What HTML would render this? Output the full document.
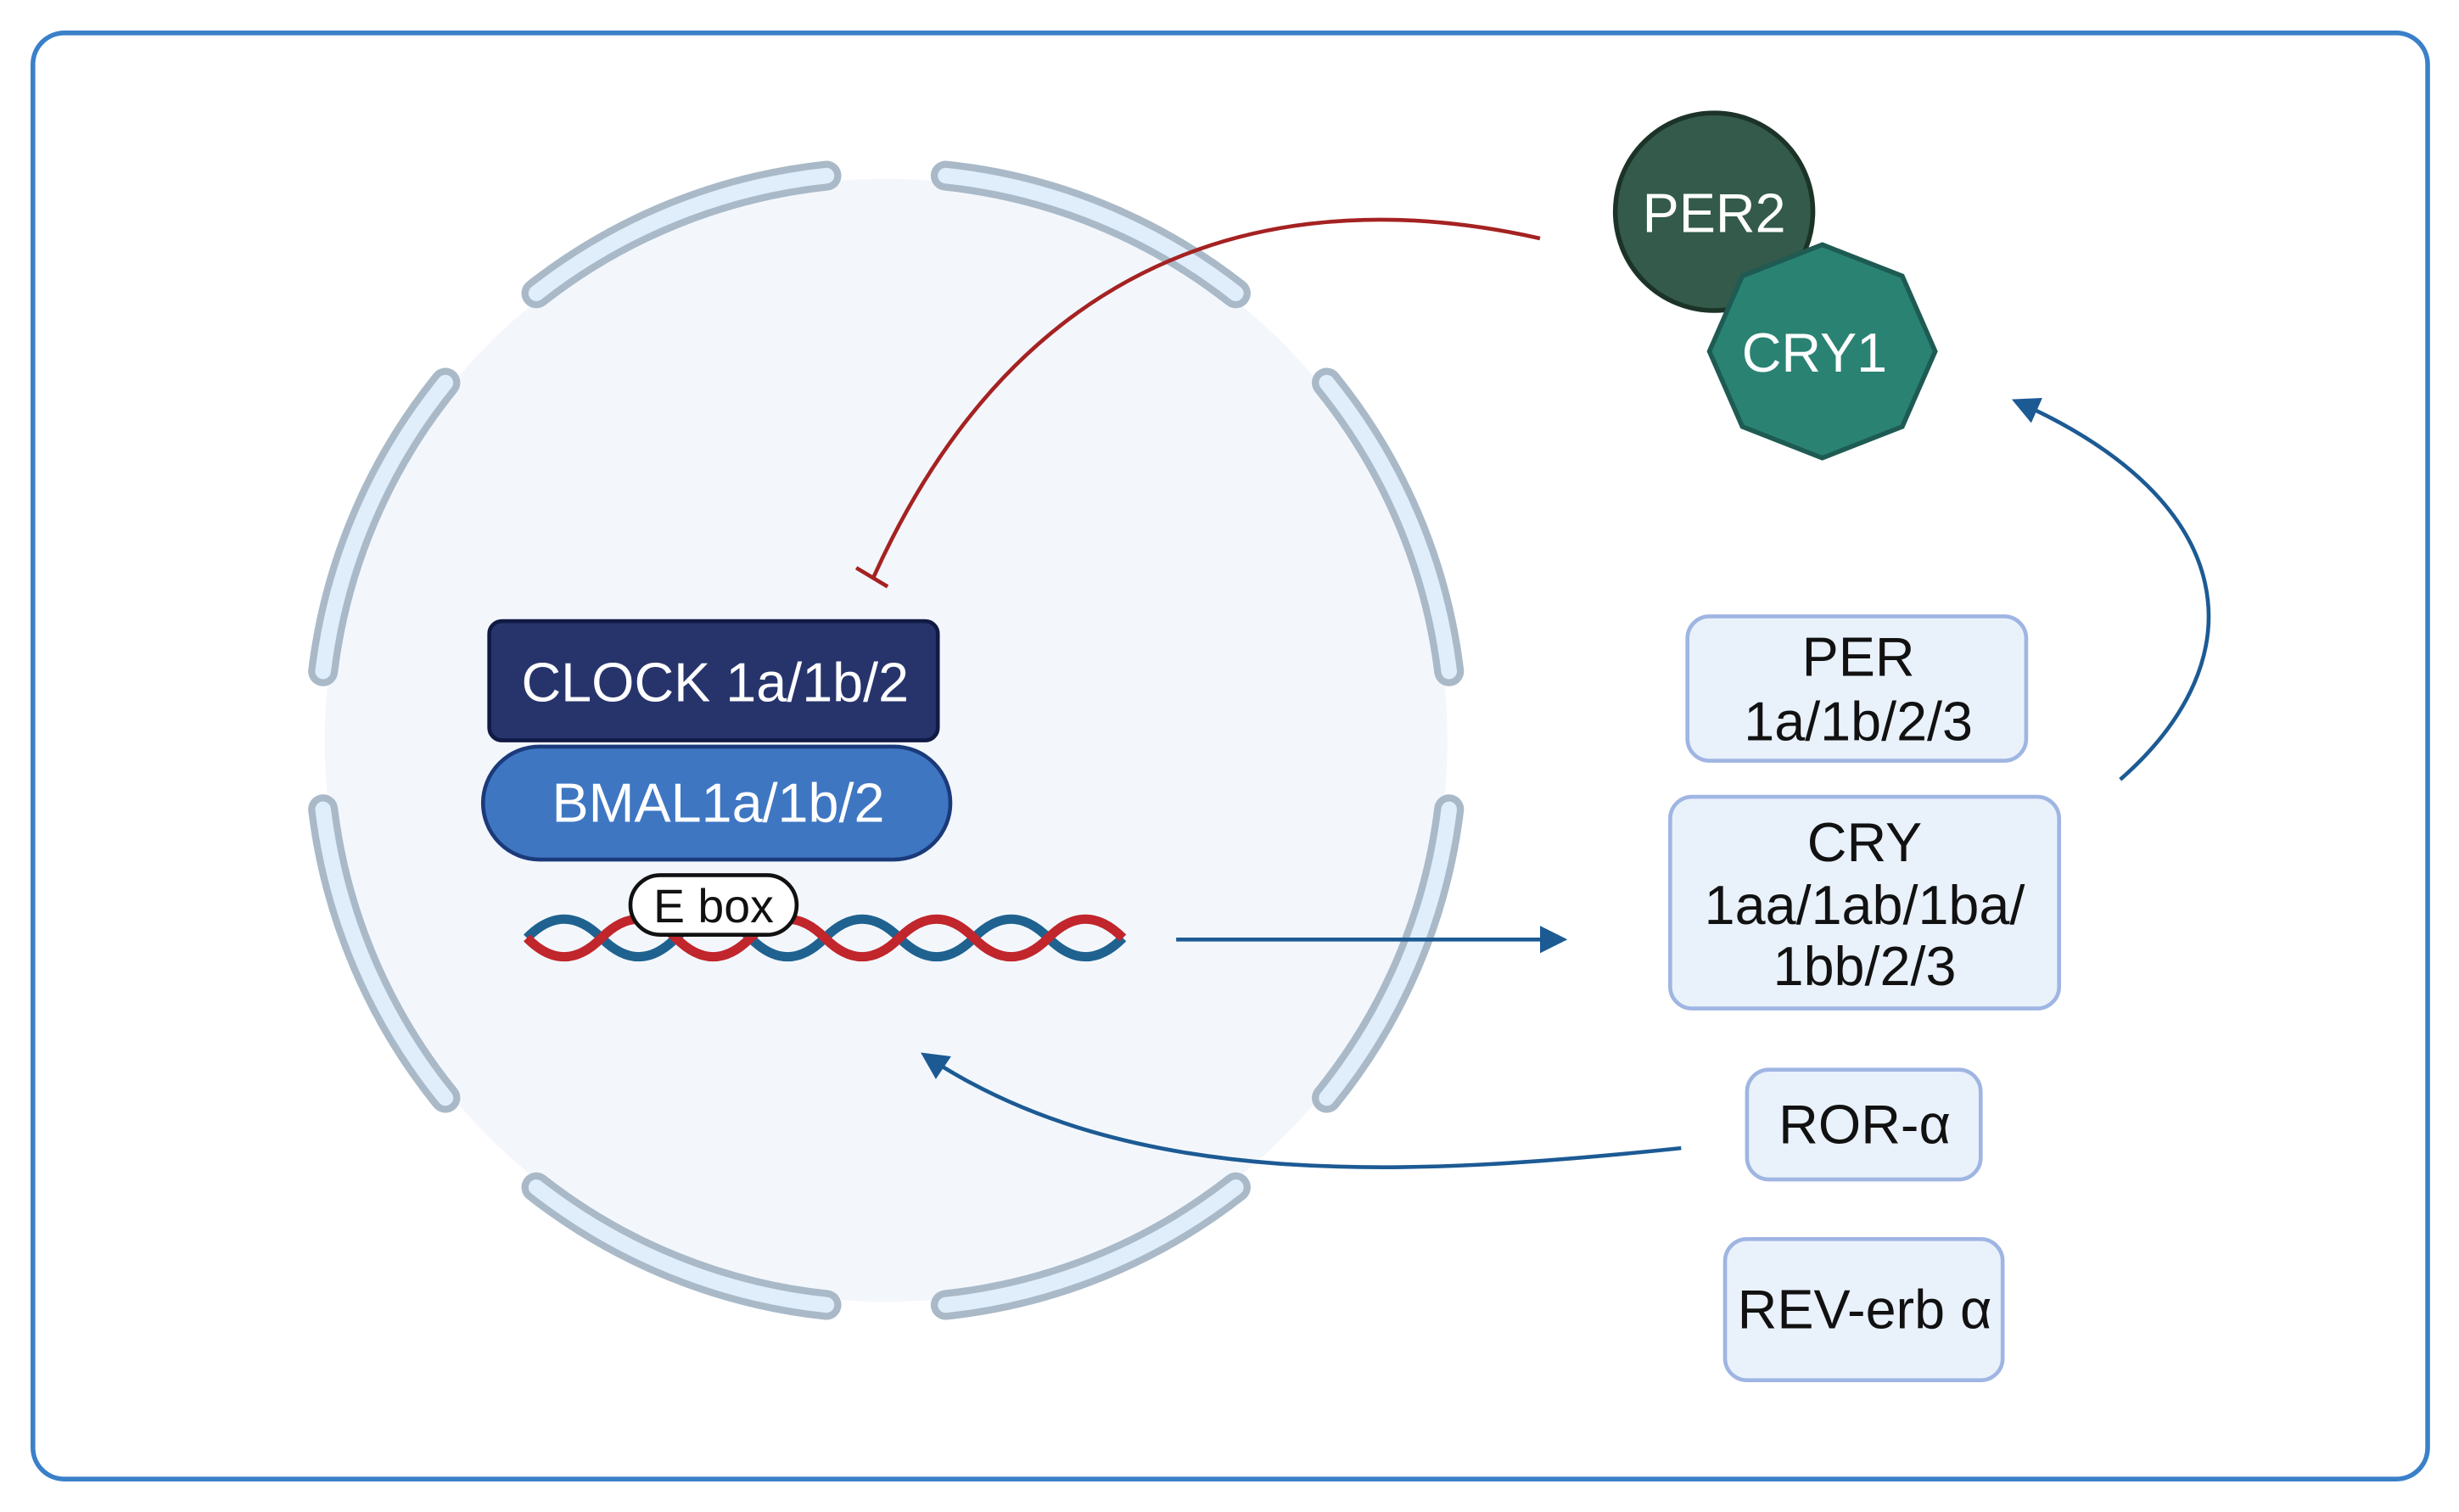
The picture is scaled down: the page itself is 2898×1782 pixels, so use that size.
<!DOCTYPE html>
<html><head><meta charset="utf-8"><style>
html,body{margin:0;padding:0;background:#fff;}
svg{display:block;}
text{font-family:"Liberation Sans",sans-serif;}
</style></head><body>
<svg width="2898" height="1782" viewBox="0 0 1568 964" preserveAspectRatio="none" xmlns="http://www.w3.org/2000/svg">
<defs>
<marker id="ah" viewBox="0 0 10 10" refX="8" refY="5" markerWidth="7" markerHeight="7" orient="auto" markerUnits="strokeWidth">
<path d="M0,0 L10,5 L0,10 z" fill="#1c5a94"/>
</marker>
</defs>
<rect x="0" y="0" width="1568" height="964" fill="#fff"/>
<rect x="21" y="21" width="1527" height="922" rx="20" fill="#fff" stroke="#3a80c9" stroke-width="3"/>
<circle cx="565" cy="472" r="358" fill="#f3f7fc"/>
<g fill="none" stroke-linecap="round">
<g stroke="#a9b9c8" stroke-width="19">
<path d="M342,187 A362,362 0 0 1 527,112"/>
<path d="M603,112 A362,362 0 0 1 788,187"/>
<path d="M846,244 A362,362 0 0 1 924,428"/>
<path d="M924,516 A362,362 0 0 1 846,700"/>
<path d="M788,757 A362,362 0 0 1 603,832"/>
<path d="M527,832 A362,362 0 0 1 342,757"/>
<path d="M284,700 A362,362 0 0 1 206,516"/>
<path d="M206,428 A362,362 0 0 1 284,244"/>
</g>
<g stroke="#e0eefb" stroke-width="10">
<path d="M342,187 A362,362 0 0 1 527,112"/>
<path d="M603,112 A362,362 0 0 1 788,187"/>
<path d="M846,244 A362,362 0 0 1 924,428"/>
<path d="M924,516 A362,362 0 0 1 846,700"/>
<path d="M788,757 A362,362 0 0 1 603,832"/>
<path d="M527,832 A362,362 0 0 1 342,757"/>
<path d="M284,700 A362,362 0 0 1 206,516"/>
<path d="M206,428 A362,362 0 0 1 284,244"/>
</g>
</g>
<!-- red inhibition -->
<path d="M982,152 C840,120 660,140 557,368" fill="none" stroke="#a52222" stroke-width="2.5"/>
<line x1="546" y1="362" x2="566" y2="374" stroke="#a52222" stroke-width="2.5"/>
<!-- PER2 / CRY1 -->
<circle cx="1093" cy="135" r="63" fill="#335a4a" stroke="#1c3328" stroke-width="3"/>
<text x="1093" y="148" font-size="35" fill="#fff" text-anchor="middle">PER2</text>
<polygon points="1162,156 1213,176 1234,224 1213,272 1162,292 1111,272 1090,224 1111,176" fill="#2a8273" stroke="#1e5b52" stroke-width="3"/>
<text x="1157" y="237" font-size="35" fill="#fff" text-anchor="middle">CRY1</text>
<!-- CLOCK / BMAL -->
<rect x="308" y="476" width="298" height="72" rx="36" fill="#3e76c2" stroke="#1b3a7a" stroke-width="2.5"/>
<rect x="312" y="396" width="286" height="76" rx="8" fill="#27346c" stroke="#111a44" stroke-width="2.5"/>
<text x="456" y="447" font-size="35" fill="#fff" text-anchor="middle">CLOCK 1a/1b/2</text>
<text x="458" y="524" font-size="35" fill="#fff" text-anchor="middle">BMAL1a/1b/2</text>
<!-- DNA -->
<path d="M336,610 q23.75,-24 47.5,0 t47.5,0 t47.5,0 t47.5,0 t47.5,0 t47.5,0 t47.5,0 t47.5,0" transform="translate(0,-12)" fill="none" stroke="#1f6290" stroke-width="6"/>
<path d="M336,586 q23.75,24 47.5,0 t47.5,0 t47.5,0 t47.5,0 t47.5,0 t47.5,0 t47.5,0 t47.5,0" transform="translate(0,12)" fill="none" stroke="#c0262c" stroke-width="6"/>
<rect x="402" y="558" width="106" height="38" rx="19" fill="#fff" stroke="#111" stroke-width="2.5"/>
<text x="455" y="588" font-size="30" fill="#111" text-anchor="middle">E box</text>
<!-- arrows -->
<line x1="750" y1="599" x2="996" y2="599" stroke="#1c5a94" stroke-width="2.5" marker-end="url(#ah)"/>
<path d="M1352,497 C1440,420 1430,320 1286,256" fill="none" stroke="#1c5a94" stroke-width="2.5" marker-end="url(#ah)"/>
<path d="M1072,732 C900,750 720,760 590,673" fill="none" stroke="#1c5a94" stroke-width="2.5" marker-end="url(#ah)"/>
<!-- boxes -->
<g fill="#e9f1fb" stroke="#9fb5e2" stroke-width="2.5">
<rect x="1076" y="393" width="216" height="92" rx="14"/>
<rect x="1065" y="508" width="248" height="135" rx="14"/>
<rect x="1114" y="682" width="149" height="70" rx="14"/>
<rect x="1100" y="790" width="177" height="90" rx="14"/>
</g>
<g font-size="35" fill="#111" text-anchor="middle">
<text x="1185" y="431">PER</text>
<text x="1185" y="472">1a/1b/2/3</text>
<text x="1189" y="549">CRY</text>
<text x="1189" y="589">1aa/1ab/1ba/</text>
<text x="1189" y="628">1bb/2/3</text>
<text x="1189" y="729">ROR-α</text>
<text x="1189" y="847">REV-erb α</text>
</g>
</svg>
</body></html>
